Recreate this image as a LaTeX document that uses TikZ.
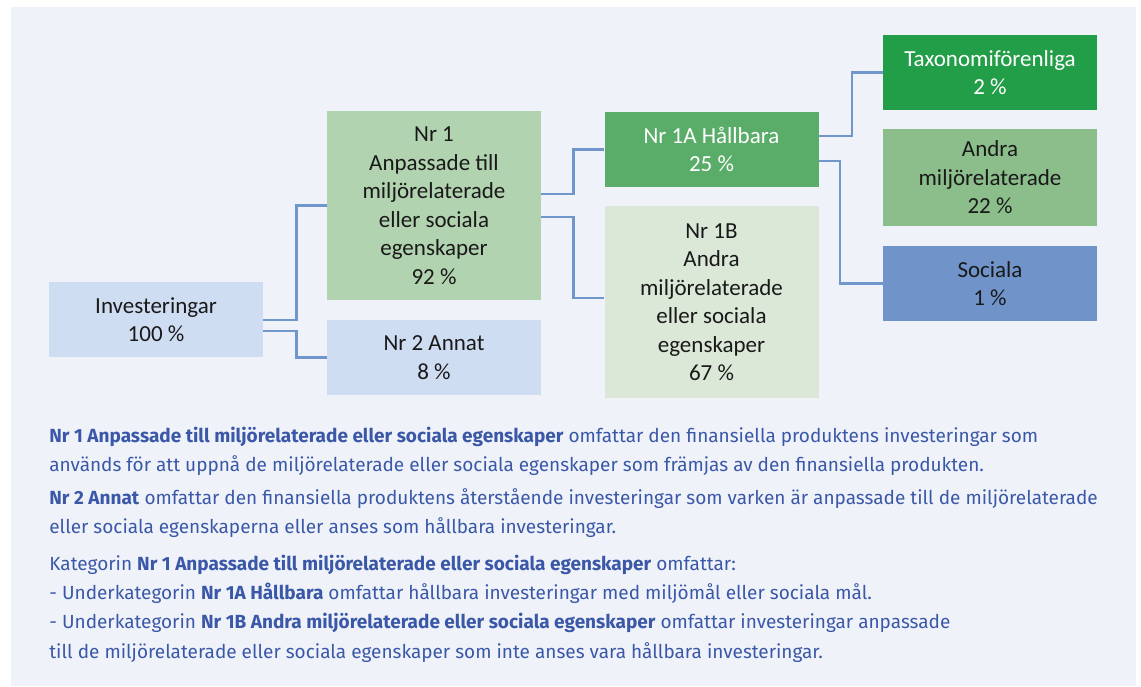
\documentclass[tikz,border=0pt]{standalone}
\usepackage{fontspec}
\setmainfont{Carlito}
\newfontfamily\descfont{Fira Sans}
\usepackage{tikz}
\definecolor{bgcol}{HTML}{EFF3F9}
\definecolor{linecol}{HTML}{7096CC}
\definecolor{txtcol}{HTML}{3B58A8}
\definecolor{boxblue}{HTML}{CFDDF3}
\definecolor{boxgreen}{HTML}{B2D3B0}
\definecolor{boxdark}{HTML}{5AAD68}
\definecolor{boxpale}{HTML}{DBE8D8}
\definecolor{boxtaxo}{HTML}{239E48}
\definecolor{boxother}{HTML}{8BBE8B}
\definecolor{boxsoc}{HTML}{7094CA}
\tikzset{every picture/.style={line width=0.75pt}}
\tikzset{
  box/.style={minimum width=214pt, inner sep=0pt, align=center, text=black!90,
    font=\fontsize{23}{28.5}\selectfont},
  conn/.style={draw=linecol, line width=2.4pt},
  desc/.style={anchor=base west, inner sep=0pt, text=txtcol,
    font=\descfont\fontsize{19}{29}\selectfont}
}

\begin{document}
\begin{tikzpicture}[x=1pt,y=1pt,yscale=-1,xscale=1]
    \useasboundingbox (0,0) rectangle (1141,686);
    \fill[bgcol] (11,7) rectangle (1136,686);
    % boxes
    \node (inv) [box, fill=boxblue, minimum height=75pt] at (156,319.5) {Investeringar\\100 \%};
    \node (nr1) [box, fill=boxgreen, minimum height=189pt] at (434,205.5) {Nr 1\\Anpassade till\\miljörelaterade\\eller sociala\\egenskaper\\92 \%};
    \node (nr2) [box, fill=boxblue, minimum height=75pt] at (434,357.5) {Nr 2 Annat\\8 \%};
    \node (nra) [box, fill=boxdark, text=white, minimum height=75pt] at (711.5,149.5) {Nr 1A Hållbara\\25 \%};
    \node (nrb) [box, fill=boxpale, minimum height=192pt] at (711.5,302) {Nr 1B\\Andra\\miljörelaterade\\eller sociala\\egenskaper\\67 \%};
    \node (taxo) [box, fill=boxtaxo, text=white, minimum height=75pt] at (990,72.5) {Taxonomiförenliga\\2 \%};
    \node (other) [box, fill=boxother, minimum height=97pt] at (990,177.5) {Andra\\miljörelaterade\\22 \%};
    \node (soc) [box, fill=boxsoc, minimum height=75pt] at (990,283.5) {Sociala\\1 \%};
    % connectors (yscale=-1, so a positive yshift goes down)
    \draw[conn] ([yshift=0.5pt]inv.east) -- ++(33,0) |- (nr1.west);
    \draw[conn] ([yshift=11.5pt]inv.east) -- ++(33,0) |- (nr2.west);
    \draw[conn] ([yshift=-11.5pt]nr1.east) -- ++(32,0) |- (nra.west);
    \draw[conn] ([yshift=11.5pt]nr1.east) -- ++(32,0) |- ([yshift=-4pt]nrb.west);
    \draw[conn] ([yshift=-13.5pt]nra.east) -- ++(33,0) |- (taxo.west);
    \draw[conn] ([yshift=11.5pt]nra.east) -- ++(21,0) |- (soc.west);
    % description
    \node (l1) [desc] at (49,442) {\textbf{Nr 1 Anpassade till miljörelaterade eller sociala egenskaper} omfattar den finansiella produktens investeringar som};
    \node (l2) [desc] at (49,471) {används för att uppnå de miljörelaterade eller sociala egenskaper som främjas av den finansiella produkten.};
    \node (l3) [desc] at (49,504) {\textbf{Nr 2 Annat} omfattar den finansiella produktens återstående investeringar som varken är anpassade till de miljörelaterade};
    \node (l4) [desc] at (49,533) {eller sociala egenskaperna eller anses som hållbara investeringar.};
    \node (l5) [desc] at (49,570) {Kategorin \textbf{Nr 1 Anpassade till miljörelaterade eller sociala egenskaper} omfattar:};
    \node (l6) [desc] at (49,599) {- Underkategorin \textbf{Nr 1A Hållbara} omfattar hållbara investeringar med miljömål eller sociala mål.};
    \node (l7) [desc] at (49,628) {- Underkategorin \textbf{Nr 1B Andra miljörelaterade eller sociala egenskaper} omfattar investeringar anpassade};
    \node (l8) [desc] at (49,658) {till de miljörelaterade eller sociala egenskaper som inte anses vara hållbara investeringar.};
\end{tikzpicture}
\end{document}
